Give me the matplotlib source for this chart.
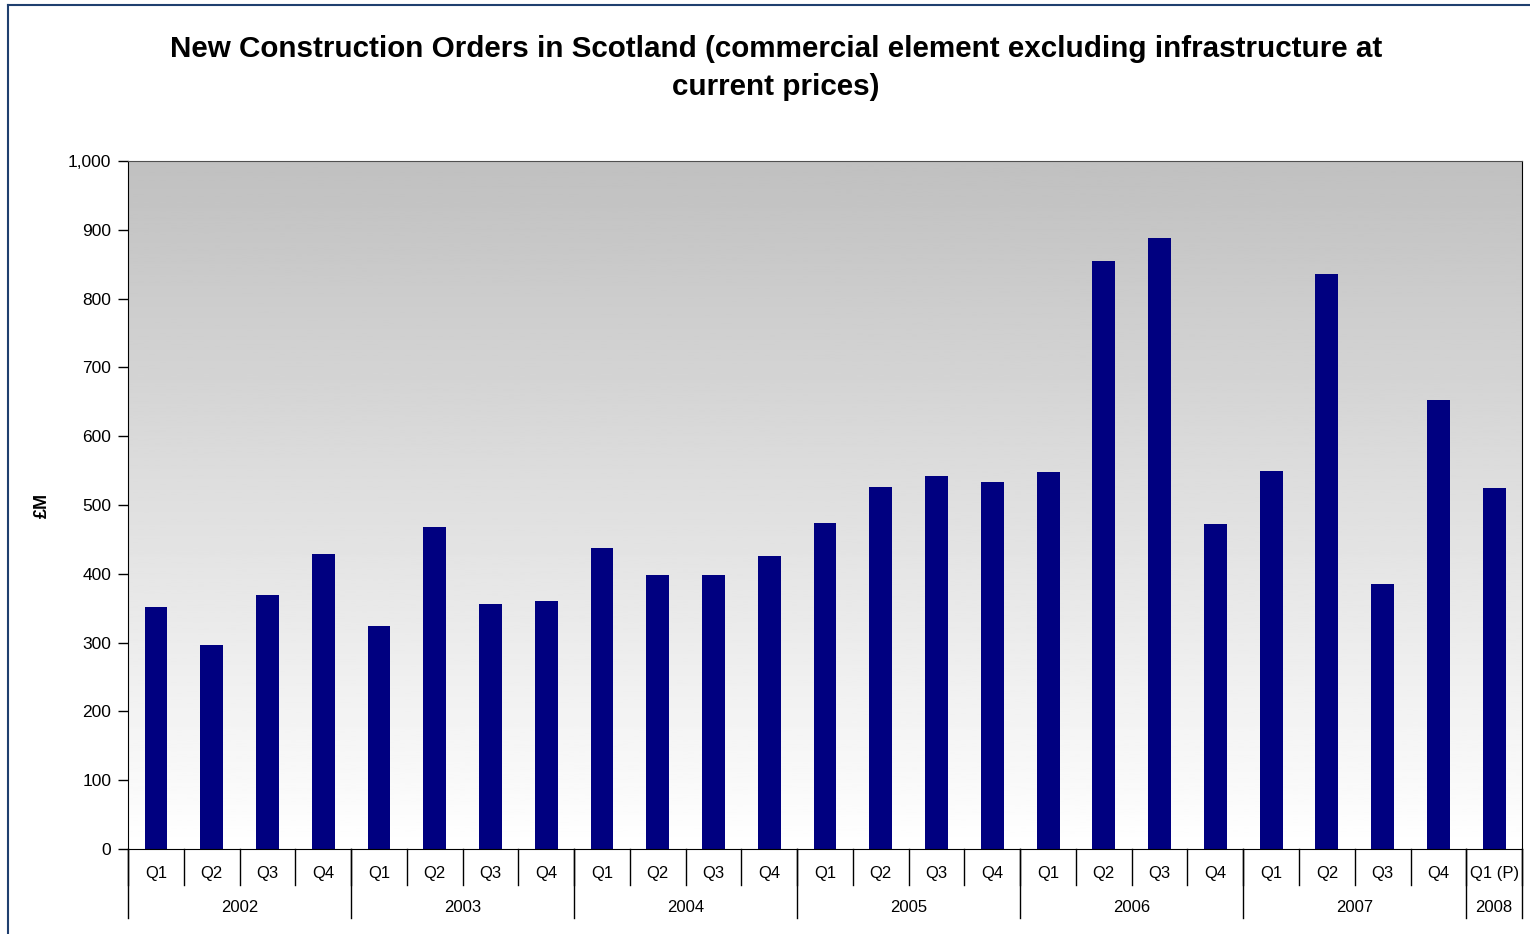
import numpy as np
import matplotlib
matplotlib.use("Agg")
import matplotlib.pyplot as plt
from matplotlib.lines import Line2D

plt.rcParams['font.family'] = ['Liberation Sans', 'DejaVu Sans']

years = ["2002", "2003", "2004", "2005", "2006", "2007", "2008"]
quarters_per_year = [4, 4, 4, 4, 4, 4, 1]
quarter_labels = ["Q1", "Q2", "Q3", "Q4"] * 6 + ["Q1 (P)"]
orders = [352, 297, 369, 429,
          324, 468, 356, 360,
          438, 398, 398, 426,
          474, 526, 542, 533,
          548, 855, 888, 472,
          549, 836, 385, 653,
          525]
title_lines = ["New Construction Orders in Scotland (commercial element excluding infrastructure at",
               "current prices)"]

fig = plt.figure(figsize=(15.3, 9.34), dpi=100)
ax = fig.add_axes([0.0837, 0.091, 0.9111, 0.7366])

n = len(orders)
x = np.arange(n)

# grey (top) to white (bottom) gradient behind the bars
grad = np.linspace(1.0, 0.753, 256).reshape(-1, 1)
ax.imshow(grad, extent=(-0.5, n - 0.5, 0, 1000), aspect='auto',
          cmap='gray', vmin=0, vmax=1, origin='lower', zorder=0)
ax.set_xlim(-0.5, n - 0.5)
ax.set_ylim(0, 1000)

ax.bar(x, orders, width=0.41, color='#000080', zorder=2)

ax.set_yticks(np.arange(0, 1001, 100))
ax.set_yticklabels([f"{v:,}" for v in range(0, 1001, 100)], fontsize=12.5)
ax.tick_params(axis='y', length=7, width=1, pad=5)
ax.set_xticks([])
for s in ['left', 'bottom', 'right']:
    ax.spines[s].set_color('black')
ax.spines['top'].set_color('#505050')
ax.set_ylabel("£M", fontsize=13, fontweight='bold', labelpad=12)

# category labels (quarters + years)
trans = ax.get_xaxis_transform()
for i, lab in enumerate(quarter_labels):
    ax.text(i, -0.035, lab, transform=trans, ha='center', va='center', fontsize=12)
# separators between quarters
for i in range(n + 1):
    ax.add_line(Line2D([i - 0.5, i - 0.5], [0, -0.052], transform=trans,
                       color='black', lw=1, clip_on=False))
start = 0
for yr, cnt in zip(years, quarters_per_year):
    ax.add_line(Line2D([start - 0.5, start - 0.5], [0, -0.101], transform=trans,
                       color='black', lw=1, clip_on=False))
    ax.text(start + (cnt - 1) / 2, -0.085, yr, transform=trans,
            ha='center', va='center', fontsize=12)
    start += cnt
ax.add_line(Line2D([n - 0.5, n - 0.5], [0, -0.101], transform=trans,
                   color='black', lw=1, clip_on=False))

fig.text(0.507, 0.9475, title_lines[0], ha='center', va='center',
         fontsize=21.3, fontweight='bold')
fig.text(0.507, 0.9065, title_lines[1], ha='center', va='center',
         fontsize=21.3, fontweight='bold')

# figure border (top and left)
fig.add_artist(Line2D([8 / 1530, 8 / 1530], [0, 1 - 5 / 934], transform=fig.transFigure,
                      color='#1f3f6f', lw=1.5))
fig.add_artist(Line2D([8 / 1530, 1], [1 - 5 / 934, 1 - 5 / 934], transform=fig.transFigure,
                      color='#1f3f6f', lw=1.5))

fig.savefig("out.png", dpi=100)
